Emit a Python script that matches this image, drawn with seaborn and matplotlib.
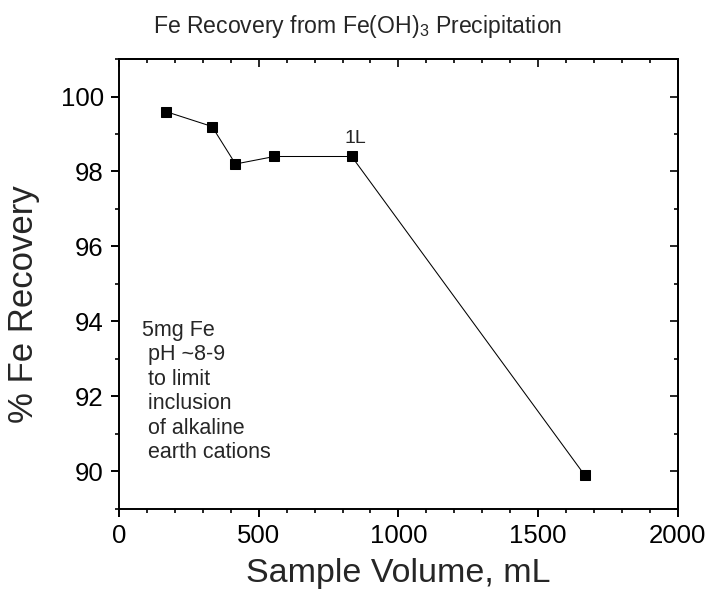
import matplotlib
matplotlib.use("Agg")
import matplotlib.pyplot as plt
from matplotlib.ticker import MultipleLocator
import seaborn as sns
import pandas as pd

# data
volume_ml = [167, 333, 417, 556, 833, 1667]
fe_recovery = [99.6, 99.2, 98.2, 98.4, 98.4, 89.9]
note_lines = ["5mg Fe", " pH ~8-9", " to limit", " inclusion", " of alkaline", " earth cations"]

df = pd.DataFrame({"volume": volume_ml, "recovery": fe_recovery})

sns.set_style("ticks")
plt.rcParams["font.family"] = ["Liberation Sans", "DejaVu Sans"]
plt.rcParams["mathtext.fontset"] = "custom"
plt.rcParams["mathtext.rm"] = "Liberation Sans"
plt.rcParams["mathtext.it"] = "Liberation Sans"
plt.rcParams["mathtext.default"] = "regular"

fig = plt.figure(figsize=(7.1, 5.96), dpi=100)
ax = fig.add_axes([0.1676, 0.146, 0.787, 0.755])

sns.lineplot(data=df, x="volume", y="recovery", ax=ax, color="black",
             linewidth=0.75, marker="s", markersize=6.7, markeredgecolor="black",
             sort=False)

ax.set_xlim(0, 2000)
ax.set_ylim(89, 101)
ax.xaxis.set_major_locator(MultipleLocator(500))
ax.xaxis.set_minor_locator(MultipleLocator(100))
ax.yaxis.set_major_locator(MultipleLocator(2))
ax.yaxis.set_minor_locator(MultipleLocator(1))

for s in ax.spines.values():
    s.set_linewidth(1.4)
    s.set_color("black")

ax.tick_params(which="major", direction="out", length=6, width=1.4, labelsize=18.5, colors="black")
ax.tick_params(which="minor", direction="out", length=3.2, width=1.4)
ax.tick_params(axis="x", which="major", pad=4.5)
ax.tick_params(axis="y", which="major", pad=5)

# mirrored ticks on top and right point inward
top = ax.secondary_xaxis("top")
top.xaxis.set_major_locator(MultipleLocator(500))
top.xaxis.set_minor_locator(MultipleLocator(100))
top.tick_params(which="major", direction="in", length=6, width=1.4, labeltop=False)
top.tick_params(which="minor", direction="in", length=3.2, width=1.4)
right = ax.secondary_yaxis("right")
right.yaxis.set_major_locator(MultipleLocator(2))
right.yaxis.set_minor_locator(MultipleLocator(1))
right.tick_params(which="major", direction="in", length=6, width=1.4, labelright=False)
right.tick_params(which="minor", direction="in", length=3.2, width=1.4)
for sa in (top, right):
    for s in sa.spines.values():
        s.set_linewidth(1.4)

ax.set_xlabel("Sample Volume, mL", fontsize=24.5)
ax.xaxis.set_label_coords(0.5, -0.110)
ax.set_ylabel("% Fe Recovery", fontsize=25)
ax.yaxis.set_label_coords(-0.141, 0.456)
fig.text(0.503, 0.945, "Fe Recovery from Fe(OH)$_3$ Precipitation", fontsize=16.6,
         ha="center", va="baseline")

ax.text(847, 98.755, "1L", fontsize=14, ha="center", va="baseline")
ax.text(82.5, 94.05, "\n".join(note_lines), fontsize=15.5, ha="left", va="top",
        linespacing=1.22)

fig.savefig("out.png", dpi=100)
